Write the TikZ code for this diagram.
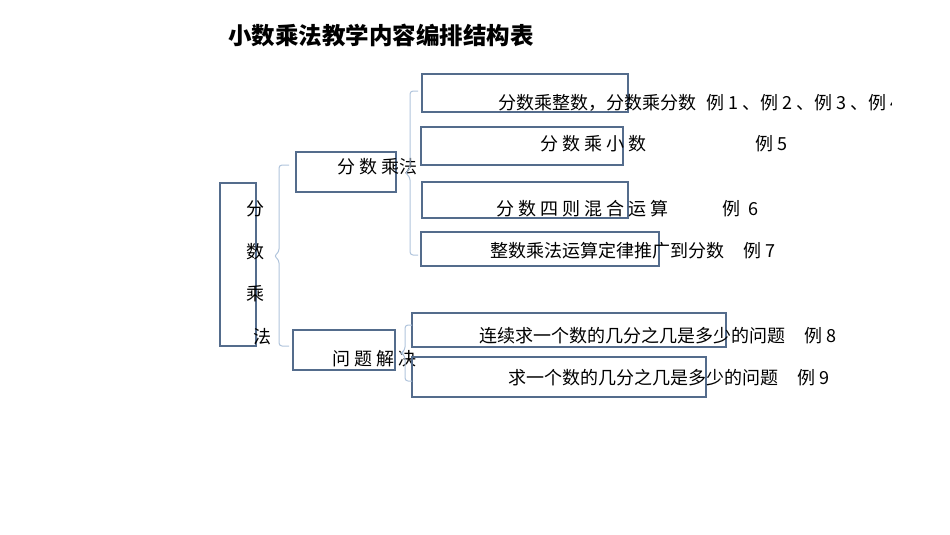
\documentclass[tikz,border=0pt]{standalone}
\usepackage{fontspec}
\setmainfont{Noto Sans CJK SC}
\usepackage{tikz}
\definecolor{boxline}{RGB}{84,108,140}
\definecolor{braceline}{RGB}{176,196,220}

\begin{document}
\begin{tikzpicture}[x=1pt,y=-1pt,
		itembox/.style = {rectangle,draw=boxline,line width=1.1pt,inner sep=0pt},
		itemtext/.style = {anchor=base west,inner sep=0pt,font=\fontsize{18}{20}\selectfont},
		titletext/.style = {anchor=base west,inner sep=0pt,font=\fontsize{23.5}{26}\selectfont\bfseries},
		bracket/.style = {draw=braceline,line width=1pt,rounded corners=3pt}]
		\useasboundingbox (0,0) rectangle (950,535);
		\node [titletext] (title) at (228,45) {小数乘法教学内容编排结构表};
		\node [itembox,minimum width=36pt,minimum height=163pt] (rootbox) at (238,264.5) {};
		\node [itemtext] (rootA) at (246,215) {分};
		\node [itemtext] (rootB) at (246,258) {数};
		\node [itemtext] (rootC) at (246,300) {乘};
		\node [itemtext] (rootD) at (253,343) {法};
		\node [itembox,minimum width=100pt,minimum height=40pt] (fsbox) at (346,172) {};
		\node [itemtext] (fstext) at (337,173) {分 数 乘法};
		\node [itembox,minimum width=102pt,minimum height=40pt] (wtbox) at (344,350) {};
		\node [itemtext] (wttext) at (332,365) {问 题 解 决};
		\node [itembox,minimum width=206pt,minimum height=38pt] (boxA) at (525,93) {};
		\node [itemtext] (textA) at (498,109) {分数乘整数，分数乘分数};
		\begin{scope}
			\clip (0,0) rectangle (891,535);
			\node [itemtext] (exA) at (706,109) {例 1 、例 2 、例 3 、例 4};
		\end{scope}
		\node [itembox,minimum width=202pt,minimum height=38pt] (boxB) at (522,146) {};
		\node [itemtext] (textB) at (540,150) {分 数 乘 小 数};
		\node [itemtext] (exB) at (755,150) {例 5};
		\node [itembox,minimum width=206pt,minimum height=36pt] (boxC) at (525,200) {};
		\node [itemtext] (textC) at (496,215) {分 数 四 则 混 合 运 算};
		\node [itemtext] (exC) at (722,215) {例 \ 6};
		\node [itembox,minimum width=238pt,minimum height=34pt] (boxD) at (540,249) {};
		\node [itemtext] (textD) at (490,257) {整数乘法运算定律推广到分数};
		\node [itemtext] (exD) at (743,257) {例 7};
		\node [itembox,minimum width=314pt,minimum height=34pt] (boxE) at (569,330) {};
		\node [itemtext] (textE) at (479,342) {连续求一个数的几分之几是多少的问题};
		\node [itemtext] (exE) at (804,342) {例 8};
		\node [itembox,minimum width=294pt,minimum height=40pt] (boxF) at (559,377) {};
		\node [itemtext] (textF) at (508,384) {求一个数的几分之几是多少的问题};
		\node [itemtext] (exF) at (797,384) {例 9};
		\coordinate (rootTop) at (289,165);
		\coordinate (rootTip) at (274,256);
		\coordinate (rootBot) at (289,346);
		\coordinate (fsTop) at (418,91);
		\coordinate (fsTip) at (405,173);
		\coordinate (fsBot) at (418,255);
		\coordinate (wtTop) at (412,325);
		\coordinate (wtTip) at (401,353);
		\coordinate (wtBot) at (412,381);
		\draw [bracket] (rootTop) -- ++(-10,0) -- ++(0,87) -- (rootTip) -- ++(5,4) -- ++(0,86) -- (rootBot);
		\draw [bracket] (fsTop) -- ++(-8,0) -- ++(0,78) -- (fsTip) -- ++(5,4) -- ++(0,78) -- (fsBot);
		\draw [bracket] (wtTop) -- ++(-7,0) -- ++(0,25) -- (wtTip) -- ++(4,3) -- ++(0,25) -- (wtBot);
\end{tikzpicture}
\end{document}
